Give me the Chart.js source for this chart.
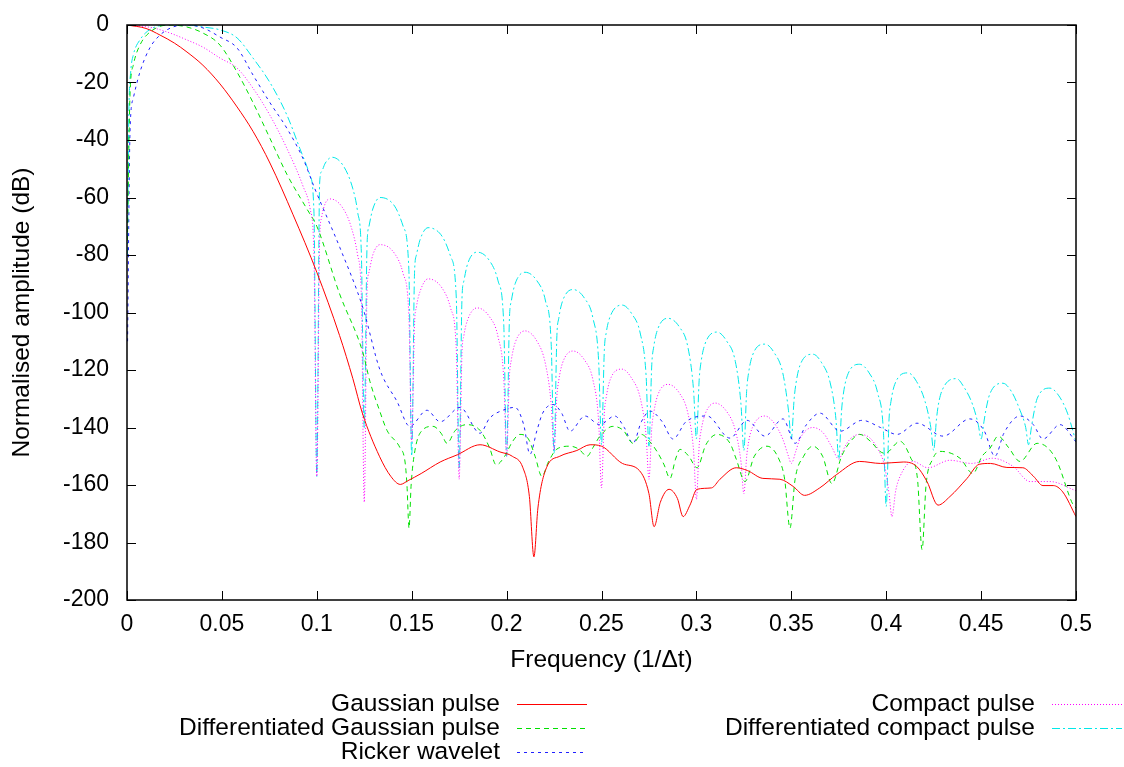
<!DOCTYPE html>
<html>
<head>
<meta charset="utf-8">
<script src="https://cdn.jsdelivr.net/npm/chart.js@4.4.1/dist/chart.umd.min.js"></script>
<style>
  html, body { margin: 0; padding: 0; background: #fff; }
  #wrap { width: 1124px; height: 767px; }
</style>
</head>
<body>
<div id="wrap"><canvas id="chart" width="1124" height="767"></canvas></div>
<script>
// values: [frequency (1/dt), amplitude (dB)]
const xTickLabels = ['0', '0.05', '0.1', '0.15', '0.2', '0.25', '0.3', '0.35', '0.4', '0.45', '0.5'];
const yTickLabels = ['-200', '-180', '-160', '-140', '-120', '-100', '-80', '-60', '-40', '-20', '0'];
const seriesNames = ['Gaussian pulse', 'Differentiated Gaussian pulse', 'Ricker wavelet', 'Compact pulse', 'Differentiated compact pulse'];

const gaussianPulse = [[0,0],[0.01,-1.2],[0.0174,-3.5],[0.025,-6.3],[0.0316,-9.4],[0.04,-14],[0.049,-20.5],[0.058,-28.5],[0.0664,-37],[0.0753,-48],[0.0875,-66],[0.1,-86],[0.112,-108],[0.119,-123],[0.124,-135],[0.133,-150],[0.139,-157],[0.144,-159.8],[0.148,-158.5],[0.155,-156],[0.165,-152],[0.174,-149.5],[0.186,-146],[0.1965,-148.5],[0.203,-150],[0.2086,-154],[0.212,-164],[0.2144,-185],[0.2165,-168],[0.221,-154],[0.228,-150],[0.237,-148],[0.244,-146],[0.25,-146.5],[0.261,-152.5],[0.27,-155],[0.275,-163],[0.2777,-174.5],[0.281,-166],[0.2856,-161.5],[0.29,-164.7],[0.293,-171],[0.2966,-167],[0.3003,-161.5],[0.308,-161],[0.3124,-158],[0.321,-154],[0.327,-155],[0.335,-157.7],[0.344,-158],[0.351,-160.5],[0.357,-163.6],[0.365,-161],[0.374,-156.3],[0.386,-151.8],[0.397,-152.5],[0.409,-152],[0.416,-153.5],[0.4215,-158.8],[0.4273,-167],[0.4336,-164],[0.4426,-157.7],[0.449,-152.8],[0.455,-152.5],[0.4636,-153.9],[0.472,-154],[0.4775,-156.9],[0.4826,-160.2],[0.488,-160.2],[0.493,-162.4],[0.5,-171]];

const diffGaussianPulse = [[0.0002,-75],[0.0016,-24],[0.0033,-14],[0.0068,-7],[0.0137,-1.7],[0.0227,0],[0.0316,-0.7],[0.04,-2.8],[0.049,-7],[0.058,-16.4],[0.0664,-27],[0.0753,-39.4],[0.0843,-52],[0.0948,-64],[0.1,-70],[0.112,-93.5],[0.1243,-114],[0.128,-124],[0.133,-134],[0.137,-141],[0.1438,-147],[0.1465,-152],[0.1475,-160],[0.1486,-175],[0.1497,-160],[0.1517,-148],[0.1555,-141],[0.1612,-139.6],[0.1655,-142],[0.1686,-145.5],[0.173,-141],[0.179,-139],[0.186,-141],[0.191,-147],[0.1945,-153],[0.199,-150],[0.203,-145],[0.207,-142.4],[0.2115,-144],[0.215,-150],[0.2186,-157],[0.222,-152],[0.2265,-147.5],[0.2334,-146.5],[0.238,-147.5],[0.2424,-150],[0.2455,-147],[0.2492,-143],[0.256,-139.6],[0.2615,-141],[0.2666,-145.5],[0.271,-142.4],[0.2755,-145],[0.2792,-148.3],[0.283,-153],[0.2861,-157.7],[0.289,-151],[0.2914,-147.6],[0.296,-150],[0.3003,-154],[0.305,-146],[0.3108,-142.4],[0.3177,-145.5],[0.321,-151],[0.3256,-158.8],[0.3305,-150],[0.3372,-146.5],[0.344,-151.8],[0.3465,-158],[0.3493,-175],[0.352,-158],[0.3565,-150],[0.3614,-146.5],[0.3665,-150],[0.3714,-159.5],[0.3765,-150],[0.381,-145],[0.386,-142.4],[0.392,-145],[0.3967,-148.3],[0.3994,-149],[0.4073,-144.8],[0.413,-150.7],[0.4165,-158],[0.4189,-182.5],[0.421,-160],[0.4245,-151],[0.4283,-148.3],[0.4389,-150.7],[0.4457,-156],[0.4505,-150],[0.4547,-147.2],[0.459,-143],[0.4645,-147],[0.4705,-151.8],[0.4795,-145.5],[0.485,-147],[0.49,-151.8],[0.4984,-166.8],[0.5,-168]];

const rickerWavelet = [[0.0003,-110],[0.0016,-37],[0.0033,-25.5],[0.0068,-16.4],[0.012,-8],[0.0174,-3.5],[0.0242,-0.7],[0.0316,0],[0.04,-1],[0.049,-4.2],[0.058,-8],[0.0664,-17.4],[0.0753,-27],[0.0843,-36],[0.0927,-46.4],[0.099,-57],[0.1122,-77.5],[0.1243,-98.4],[0.1333,-120],[0.1423,-131],[0.149,-139.6],[0.158,-134],[0.165,-138],[0.1755,-133],[0.186,-142],[0.191,-136.8],[0.198,-134],[0.2044,-133],[0.209,-139],[0.2123,-149.3],[0.216,-141],[0.219,-135],[0.2244,-132],[0.229,-135],[0.2334,-141.3],[0.2413,-136],[0.249,-139],[0.257,-136],[0.262,-140],[0.2666,-145.5],[0.271,-138],[0.2756,-134.3],[0.282,-138],[0.2877,-144],[0.2945,-138],[0.3056,-136],[0.3177,-143.7],[0.3267,-137.5],[0.3361,-143],[0.3456,-137],[0.352,-145.5],[0.358,-139],[0.3651,-135],[0.3757,-141.3],[0.3873,-137.5],[0.397,-140],[0.4057,-142.4],[0.4162,-138.5],[0.43,-143],[0.4441,-137],[0.4515,-141],[0.4573,-150],[0.462,-142],[0.4705,-136],[0.4775,-139],[0.4826,-144],[0.4916,-139],[0.5,-145]];

const compactPulse = [[0,0],[0.0137,-1],[0.0227,-2.8],[0.0316,-5.2],[0.04,-7.7],[0.049,-11.5],[0.058,-15],[0.0664,-22],[0.0753,-31.4],[0.0843,-43],[0.0927,-56],[0.0965,-64],[0.0985,-80],[0.1,-157],
  [0.1015,-75],[0.1025,-67],[0.1045,-62],[0.107,-60.5],[0.113,-63],[0.118,-70],[0.1215,-80],[0.1235,-95],[0.125,-166],
  [0.1265,-92],[0.1275,-86],[0.1295,-80],[0.1333,-76.4],[0.141,-79.5],[0.1455,-86.5],[0.1485,-101],[0.15,-145],
  [0.1515,-104],[0.1525,-98],[0.1545,-92.5],[0.1586,-88.3],[0.166,-91.5],[0.1705,-98.5],[0.1735,-113],[0.175,-158],
  [0.1765,-114],[0.1775,-108],[0.1795,-102.5],[0.1844,-98.4],[0.191,-101.5],[0.1955,-108.5],[0.1985,-123],[0.2,-150],
  [0.2015,-122],[0.2025,-116.5],[0.2045,-110.5],[0.2097,-106.4],[0.216,-110],[0.2205,-118],[0.2235,-132],[0.225,-148],
  [0.2265,-129],[0.2275,-123.5],[0.2295,-117.5],[0.235,-113.4],[0.241,-116.5],[0.2455,-123.5],[0.2485,-138],[0.25,-161],
  [0.2515,-135],[0.2525,-129.5],[0.2545,-123.5],[0.2608,-119.7],[0.266,-123],[0.2705,-130],[0.2735,-143],[0.275,-158],
  [0.2765,-140],[0.2775,-135],[0.2795,-129],[0.285,-125],[0.291,-128],[0.2955,-135],[0.2985,-148],[0.3,-165],
  [0.3015,-146],[0.3025,-141],[0.3045,-135.5],[0.3098,-131.5],[0.316,-134.5],[0.3205,-141],[0.3235,-152],[0.325,-163],
  [0.3265,-150],[0.3275,-145],[0.3295,-140],[0.3361,-136],[0.341,-138.5],[0.3455,-144],[0.3485,-150],[0.35,-152.5],
  [0.3525,-148],[0.3545,-144],[0.3614,-140],[0.367,-142],[0.3715,-147],[0.375,-151],
  [0.378,-147],[0.381,-144],[0.386,-142.4],[0.3915,-143.7],[0.396,-148],[0.399,-153],[0.4015,-163],[0.403,-171],[0.405,-162],[0.4073,-157],[0.414,-151.8],[0.422,-154],[0.4336,-151.4],[0.445,-152.5],[0.456,-150.7],[0.4668,-153.5],[0.4758,-158.8],[0.4863,-158.8],[0.5,-162]];

const diffCompactPulse = [[0.0002,-80],[0.001,-30],[0.002,-16],[0.0033,-10.5],[0.0068,-5.2],[0.0137,-1],[0.0227,0],[0.0316,0],[0.04,-0.7],[0.049,-1.7],[0.058,-4.5],[0.0664,-11.5],[0.0753,-20],[0.0843,-31.4],[0.0911,-43],[0.0964,-52.3],[0.0985,-65],[0.1,-157],
  [0.1015,-55],[0.1025,-51],[0.1045,-48],[0.108,-46],[0.114,-49],[0.119,-57],[0.1215,-65],[0.1235,-80],[0.125,-140],
  [0.1265,-76],[0.1275,-70],[0.1295,-64],[0.1333,-60],[0.141,-63],[0.1455,-70],[0.1485,-85],[0.15,-150],
  [0.1515,-86],[0.1525,-80],[0.1545,-74.5],[0.1586,-70.5],[0.166,-73.5],[0.1705,-80.5],[0.1735,-95],[0.175,-154],
  [0.1765,-95],[0.1775,-89],[0.1795,-83],[0.1844,-79],[0.191,-82],[0.1955,-89],[0.1985,-104],[0.2,-150],
  [0.2015,-102],[0.2025,-96],[0.2045,-90],[0.2097,-86],[0.216,-89],[0.2205,-96],[0.2235,-111],[0.225,-149],
  [0.2265,-108],[0.2275,-102],[0.2295,-96],[0.235,-92],[0.241,-95],[0.2455,-102],[0.2485,-117],[0.25,-146],
  [0.2515,-113],[0.2525,-107],[0.2545,-101.5],[0.2608,-97.4],[0.266,-100.5],[0.2705,-107.5],[0.2735,-122],[0.275,-146.5],
  [0.2765,-118],[0.2775,-112],[0.2795,-106],[0.285,-102],[0.291,-105],[0.2955,-112],[0.2985,-127],[0.3,-144],
  [0.3015,-123],[0.3025,-117],[0.3045,-111],[0.3108,-106.8],[0.316,-110],[0.3205,-117],[0.3235,-132],[0.325,-148],
  [0.3265,-127],[0.3275,-121],[0.3295,-115],[0.3361,-111],[0.341,-114],[0.3455,-121],[0.3485,-134],[0.35,-144],
  [0.3515,-130],[0.3525,-124.5],[0.3545,-118.5],[0.3614,-114.5],[0.366,-117.5],[0.3705,-124.5],[0.3735,-137],[0.375,-151],
  [0.3765,-134],[0.3775,-128],[0.3795,-122],[0.386,-118],[0.391,-121],[0.3955,-128],[0.3985,-141],[0.4,-167.5],
  [0.4015,-137],[0.4025,-131],[0.4045,-125],[0.4115,-121],[0.416,-124],[0.4205,-131],[0.4235,-140],[0.425,-148],
  [0.4265,-137],[0.4275,-132],[0.4295,-127],[0.437,-123],[0.441,-126],[0.4455,-132],[0.4485,-139],[0.45,-144],
  [0.4515,-138],[0.4525,-134],[0.4545,-128.5],[0.4615,-124.6],[0.466,-127.5],[0.4705,-134],[0.4735,-140],[0.475,-146],
  [0.4765,-140],[0.4775,-136],[0.4795,-130],[0.4863,-126.3],[0.491,-129],[0.4955,-135],[0.5,-145]];

const FONT = '"Liberation Sans", Arial, sans-serif';
const TICK_SIZE = 23;
const TEXT_SIZE = 24.5;

const toPoints = arr => arr.map(p => ({ x: p[0], y: p[1] }));

function makeSet(label, data, color, dash) {
  return {
    label: label,
    data: toPoints(data),
    borderColor: color,
    borderWidth: 1,
    borderDash: dash,
    pointRadius: 0,
    fill: false,
    cubicInterpolationMode: 'monotone'
  };
}

// gnuplot style frame with inward ticks on all four sides
const framePlugin = {
  id: 'frame',
  afterDatasetsDraw(chart) {
    const { ctx, chartArea: a, scales } = chart;
    ctx.save();
    ctx.strokeStyle = '#000';
    ctx.lineWidth = 1;
    ctx.beginPath();
    scales.x.ticks.forEach(t => {
      const px = Math.round(scales.x.getPixelForValue(t.value)) + 0.5;
      ctx.moveTo(px, a.bottom); ctx.lineTo(px, a.bottom - 9);
      ctx.moveTo(px, a.top); ctx.lineTo(px, a.top + 9);
    });
    scales.y.ticks.forEach(t => {
      const py = Math.round(scales.y.getPixelForValue(t.value)) + 0.5;
      ctx.moveTo(a.left, py); ctx.lineTo(a.left + 9, py);
      ctx.moveTo(a.right, py); ctx.lineTo(a.right - 9, py);
    });
    ctx.stroke();
    ctx.lineWidth = 1.5;
    ctx.strokeRect(a.left, a.top, a.right - a.left, a.bottom - a.top);

    // axis titles
    ctx.fillStyle = '#000';
    ctx.font = TEXT_SIZE + 'px ' + FONT;
    ctx.textAlign = 'center';
    ctx.textBaseline = 'middle';
    ctx.fillText('Frequency (1/\u0394t)', (a.left + a.right) / 2, 660);
    ctx.save();
    ctx.translate(22, (a.top + a.bottom) / 2);
    ctx.rotate(-Math.PI / 2);
    ctx.fillText('Normalised amplitude (dB)', 0, 0);
    ctx.restore();

    // legend: text right-aligned, sample line after it
    const spots = [[500, 704], [500, 728], [500, 752], [1035, 704], [1035, 728]];
    chart.data.datasets.forEach((ds, i) => {
      const [tx, ty] = spots[i];
      ctx.textAlign = 'right';
      ctx.fillText(ds.label, tx, ty);
      ctx.strokeStyle = ds.borderColor;
      ctx.lineWidth = 1;
      ctx.setLineDash(ds.borderDash || []);
      ctx.beginPath();
      ctx.moveTo(tx + 17, ty + 0.5);
      ctx.lineTo(tx + 87, ty + 0.5);
      ctx.stroke();
      ctx.setLineDash([]);
    });
    ctx.restore();
  }
};

new Chart(document.getElementById('chart'), {
  type: 'line',
  data: {
    datasets: [
      makeSet(seriesNames[0], gaussianPulse, '#ff0000', []),
      makeSet(seriesNames[1], diffGaussianPulse, '#00e000', [5, 4]),
      makeSet(seriesNames[2], rickerWavelet, '#2020ff', [3, 4]),
      makeSet(seriesNames[3], compactPulse, '#ff00ff', [1, 2]),
      makeSet(seriesNames[4], diffCompactPulse, '#00e8e8', [8, 3, 2, 3])
    ]
  },
  options: {
    responsive: false,
    animation: false,
    devicePixelRatio: 1,
    layout: { padding: { left: 0, right: 48, top: 25, bottom: 87 } },
    plugins: { legend: { display: false }, tooltip: { enabled: false } },
    scales: {
      x: {
        type: 'linear',
        min: 0,
        max: 0.5,
        grid: { display: false, drawTicks: false },
        border: { display: false },
        afterFit: s => { s.height = 80; s.paddingLeft = 0; s.paddingRight = 0; },
        ticks: {
          stepSize: 0.05,
          autoSkip: false,
          maxRotation: 0,
          padding: 11,
          color: '#000',
          font: { family: FONT, size: TICK_SIZE },
          callback: (v, i) => xTickLabels[i]
        }
      },
      y: {
        min: -200,
        max: 0,
        grid: { display: false, drawTicks: false },
        border: { display: false },
        afterFit: s => { s.width = 127; s.paddingTop = 0; s.paddingBottom = 0; },
        ticks: {
          stepSize: 20,
          autoSkip: false,
          padding: 18,
          color: '#000',
          font: { family: FONT, size: TICK_SIZE },
          callback: (v, i) => yTickLabels[i]
        }
      }
    }
  },
  plugins: [framePlugin]
});
</script>
</body>
</html>
